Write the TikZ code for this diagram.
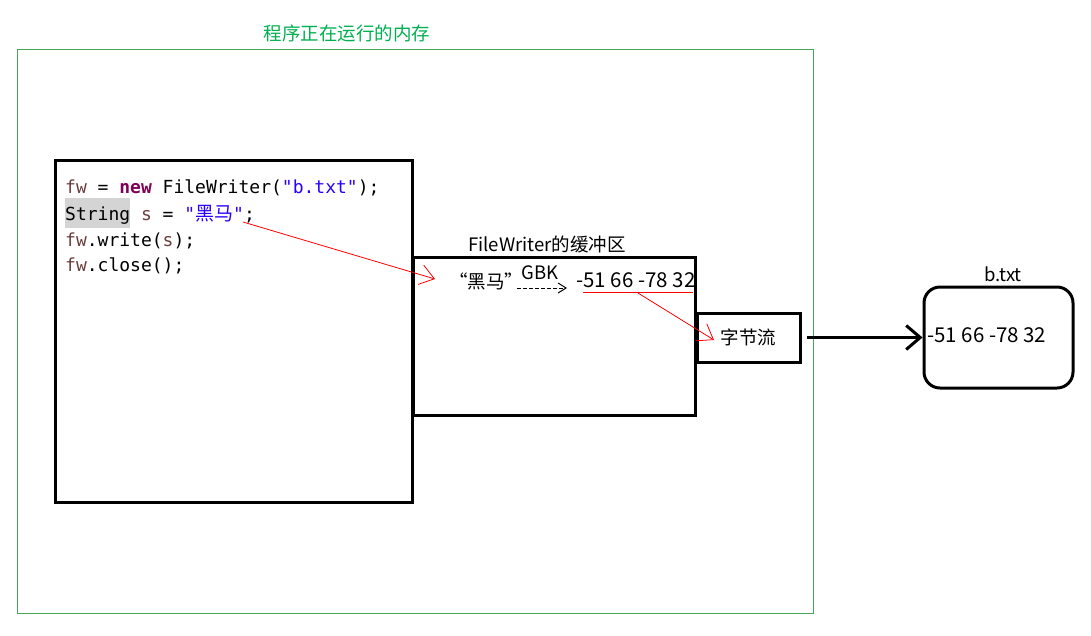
\documentclass[tikz,border=0pt]{standalone}
\usepackage{fontspec}
\usetikzlibrary{arrows.meta}
\newfontfamily\cjk{Noto Sans CJK SC}
\newfontfamily\codefont{DejaVu Sans Mono}
\definecolor{titlegreen}{RGB}{0,176,80}
\definecolor{framegreen}{RGB}{70,165,90}
\definecolor{varbrown}{RGB}{106,62,62}
\definecolor{kwpurple}{RGB}{127,0,85}
\definecolor{strblue}{RGB}{42,0,255}
\definecolor{hlgray}{RGB}{212,212,212}
\tikzset{
  x=1pt, y=-1pt,
  lbl/.style={font=\cjk\fontsize{18.5}{22}\selectfont, inner sep=0pt},
  num/.style={font=\cjk\fontsize{20.5}{24}\selectfont, inner sep=0pt},
  codeline/.style={font=\codefont\fontsize{18}{26}\selectfont, anchor=base west, inner sep=0pt},
  thickbox/.style={draw=black, line width=3pt, rectangle, inner sep=0pt},
  redarrow/.style={draw=red, line width=0.8pt, -{Straight Barb[length=14pt,width=20pt,line width=0.8pt]}},
}
\begin{document}
\begin{tikzpicture}
\useasboundingbox (0,0) rectangle (1091,635);
% outer memory frame
\node[draw=framegreen, line width=1pt, minimum width=796pt, minimum height=564pt, inner sep=0pt] (mem) at (415,331) {};
\node[lbl, text=titlegreen] (title) at (347,33) {程序正在运行的内存};
% code box
\node[thickbox, minimum width=357pt, minimum height=342pt] (code) at (233.5,331) {};
\node[codeline] (l1) at (65,193) {\textcolor{varbrown}{fw} = \textcolor{kwpurple}{\bfseries new} FileWriter(\textcolor{strblue}{"b.txt"});};
\node[codeline] (l2) at (65,220) {{\setlength{\fboxsep}{0pt}\colorbox{hlgray}{\rule[-8pt]{0pt}{30pt}String}} \textcolor{varbrown}{s} = \textcolor{strblue}{"{\cjk\fontsize{19}{26}\selectfont 黑马}"};};
\node[codeline] (l3) at (65,246) {\textcolor{varbrown}{fw}.write(\textcolor{varbrown}{s});};
\node[codeline] (l4) at (65,271) {\textcolor{varbrown}{fw}.close();};
% buffer
\node[thickbox, minimum width=282pt, minimum height=158pt] (buf) at (554,336) {};
\node[lbl] (buflabel) at (547,244) {FileWriter的缓冲区};
\node[lbl] (hm) at (486,281) {“黑马”};
\node[lbl] (gbk) at (540,273) {GBK};
\node[num] (bytes) at (636,280) {-51 66 -78 32};
\coordinate (dashA) at (517,288);
\coordinate (dashB) at (567,288);
\draw[dash pattern=on 4pt off 2pt, line width=1pt, -{Straight Barb[length=8pt,width=10pt,line width=1pt]}] (dashA) -- (dashB);
\coordinate (ulA) at (583,292);
\coordinate (ulB) at (693,292);
\draw[red, line width=1pt] (ulA) -- (ulB);
% byte stream box
\node[thickbox, minimum width=103pt, minimum height=49pt, font=\cjk\fontsize{18.5}{22}\selectfont] (stream) at (748.5,337.5) {字节流};
% file
\node[draw=black, line width=3pt, rounded corners=16pt, minimum width=149pt, minimum height=101pt, inner sep=0pt] (file) at (998.5,337.5) {};
\node[lbl] (filelabel) at (1003,274) {b.txt};
\node[num, anchor=west] (filecontent) at (927,335) {-51 66 -78 32};
% arrows
\coordinate (srcA) at (243,222);
\coordinate (dstA) at (435,279);
\draw[redarrow] (srcA) -- (dstA);
\coordinate (srcB) at (638,293);
\coordinate (dstB) at (714,340);
\draw[redarrow] (srcB) -- (dstB);
\draw[line width=3pt, -{Straight Barb[length=14pt,width=24pt,line width=3pt]}] (stream.east) ++(5,0) -- (file.west);
\end{tikzpicture}
\end{document}
